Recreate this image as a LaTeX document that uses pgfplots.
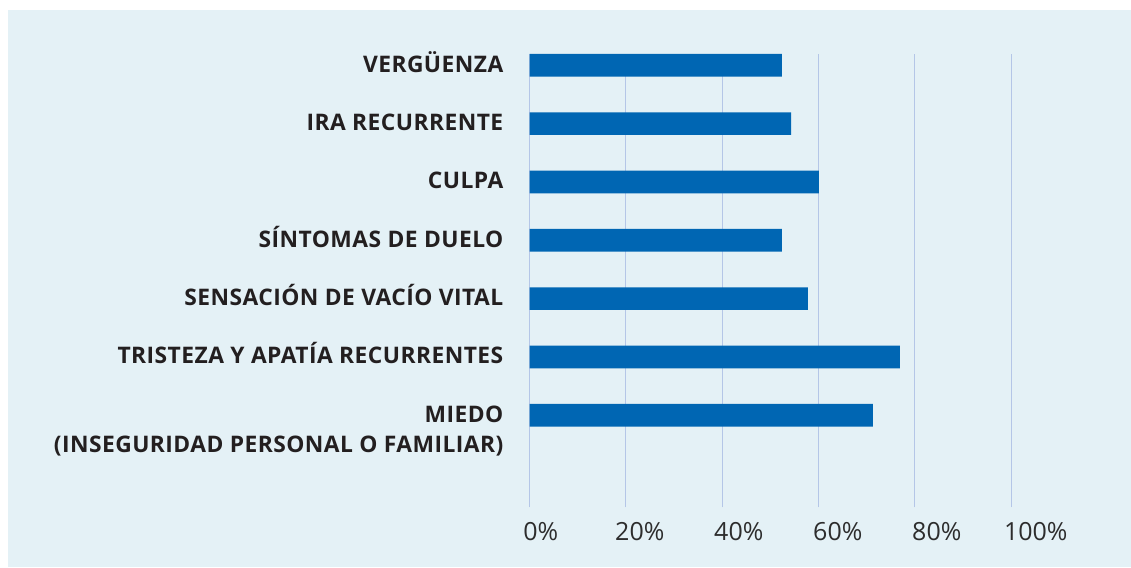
\documentclass[border=0pt]{standalone}
\usepackage{fontspec}
\setmainfont{Open Sans}
\newfontfamily\labelfont[LetterSpace=2]{Open Sans}
\usepackage{pgfplots}
\pgfplotsset{compat=1.18}
\definecolor{panel}{RGB}{228,241,246}
\definecolor{barblue}{RGB}{0,102,179}
\definecolor{gridc}{RGB}{180,198,231}
\definecolor{txt}{RGB}{35,31,32}
\definecolor{txtgray}{RGB}{45,45,45}
\begin{document}
\begin{tikzpicture}[x=1pt,y=1pt]
\useasboundingbox (0,0) rectangle (1131,567);
\fill[white] (0,0) rectangle (1131,567);
\fill[panel] (8,0) rectangle (1131,557);
\begin{axis}[
  at={(529.7pt,59.7pt)}, anchor=south west,
  scale only axis, width=481.3pt, height=453.3pt,
  xmin=0, xmax=100, ymin=-1.577, ymax=6.194,
  xbar, bar width=22.7pt,
  axis line style={draw=none},
  major tick length=0pt,
  xtick={0,20,40,60,80,100},
  xticklabels={0\%,20\%,40\%,60\%,80\%,100\%},
  xmajorgrids, grid style={gridc, line width=1pt},
  xticklabel style={font=\fontsize{25}{30}\selectfont, text=txtgray, anchor=north, inner sep=0pt, yshift=-14.4pt, xshift={(11.1+2.74*\ticknum)*1pt}},
  ytick={0,1,2,3,4,5,6},
  yticklabels={{\begin{tabular}[t]{@{}r@{}}MIEDO\\(INSEGURIDAD PERSONAL O FAMILIAR)\end{tabular}},
    TRISTEZA Y APATÍA RECURRENTES,
    SENSACIÓN DE VACÍO VITAL,
    SÍNTOMAS DE DUELO,
    CULPA,
    IRA RECURRENTE,
    VERGÜENZA},
  yticklabel style={font=\labelfont\bfseries\fontsize{22.8}{30}\selectfont, text=txt, anchor=base east, inner sep=0pt, xshift=-26.2pt, yshift=-6.8pt},
]
\addplot[fill=barblue, draw=none] coordinates {(71.3,0) (76.9,1) (57.8,2) (52.4,3) (60.1,4) (54.3,5) (52.4,6)};
\end{axis}
\end{tikzpicture}
\end{document}
